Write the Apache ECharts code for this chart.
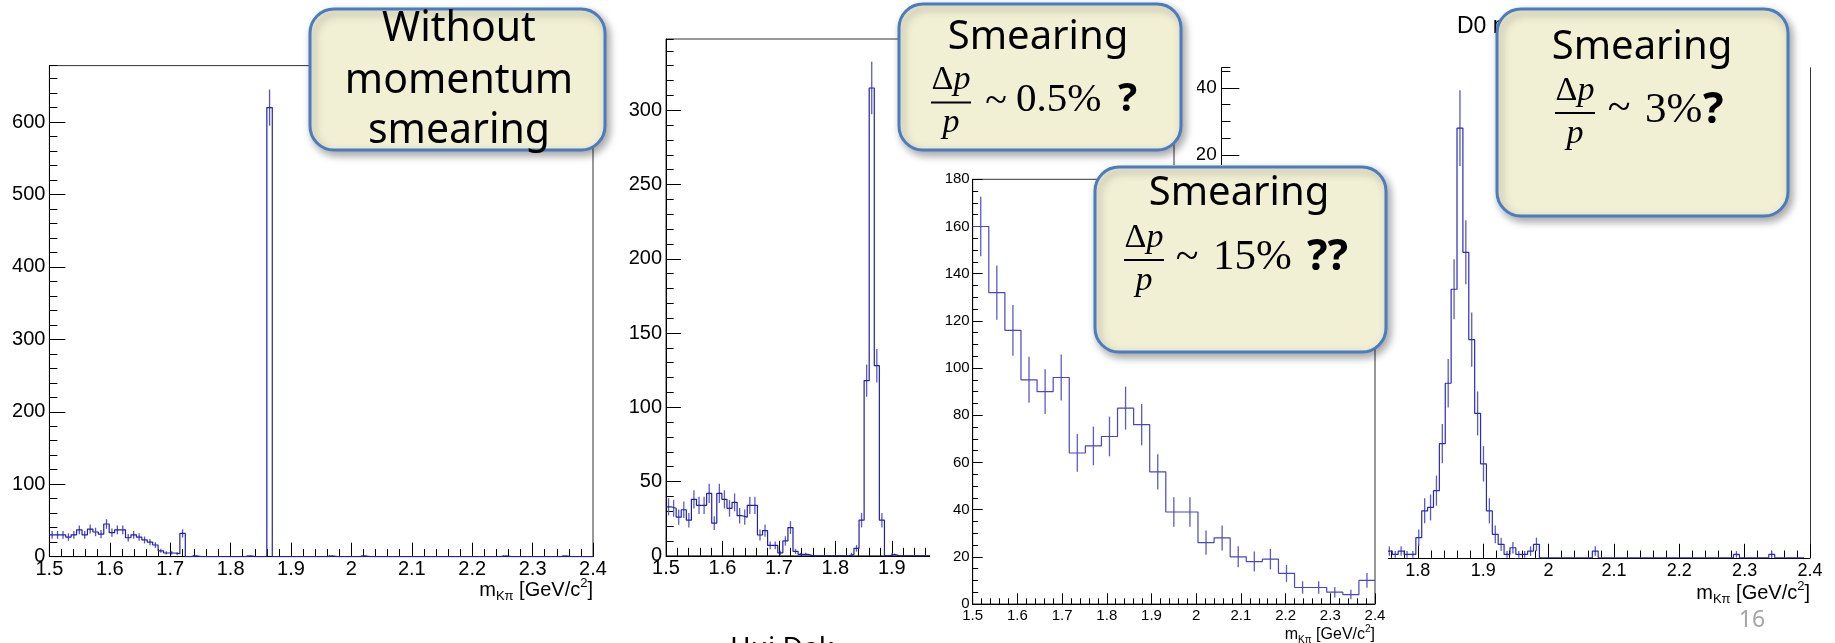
<!DOCTYPE html>
<html>
<head>
<meta charset="utf-8">
<script src="https://cdn.jsdelivr.net/npm/echarts@6/dist/echarts.min.js"></script>
<style>
  html, body { margin: 0; padding: 0; background: #fff; }
  #slide { position: relative; width: 1835px; height: 643px; overflow: hidden; background: #fff; }
  .pane { position: absolute; }
</style>
</head>
<body>
<div id="slide">
  <div id="p1" class="pane" style="left:0;top:0;width:620px;height:643px;z-index:1"></div>
  <div id="p2" class="pane" style="left:615px;top:0;width:570px;height:643px;z-index:1"></div>
  <div id="p4" class="pane" style="left:1197px;top:0;width:638px;height:643px;z-index:1"></div>
  <div id="p3" class="pane" style="left:930px;top:165px;width:458px;height:478px;z-index:2;background:#fff"></div>
  <div id="notes" class="pane" style="left:0;top:0;width:1835px;height:643px;z-index:3"></div>
</div>
<script>
// histogram binning: m(K pi) from 1.5 to 2.4 GeV/c^2
const binStart = 1.5;
const fineBin = 0.009;   // 100 bins
const coarseBin = 0.036; // 25 bins

// without momentum smearing (100 bins)
const countsNoSmear = [
  30, 30, 30, 27, 30, 37, 30, 38, 34, 31,
  45, 33, 37, 37, 26, 30, 27, 23, 20, 16,
  8, 5, 5, 4, 32, 0, 1, 0, 0, 0,
  0, 0, 0, 0, 0, 0, 1, 0, 0, 0,
  620, 0, 0, 0, 0, 0, 0, 0, 0, 0,
  0, 1, 0, 0, 0, 0, 0, 1, 0, 0,
  0, 0, 0, 0, 0, 0, 0, 0, 0, 0,
  0, 0, 0, 0, 0, 0, 0, 0, 0, 0,
  0, 0, 0, 1, 0, 0, 0, 0, 0, 0,
  0, 0, 0, 0, 1, 0, 0, 0, 0, 0
];

// smearing 0.5% (100 bins, right part hidden behind the next plot)
const countsSmear05 = [
  33, 32, 26, 31, 24, 38, 34, 34, 42, 22,
  42, 38, 32, 36, 27, 26, 34, 34, 14, 17,
  7, 7, 2, 10, 19, 3, 1, 1, 0, 0,
  0, 0, 0, 0, 0, 0, 1, 5, 24, 118,
  315, 128, 24, 0, 1, 0, 0, 0, 0, 0,
  0, 0, 0, 0, 0, 0, 0, 0, 0, 0,
  0, 0, 0, 0, 0, 0, 0, 0, 0, 0,
  0, 0, 0, 0, 0, 0, 0, 0, 0, 0,
  0, 0, 0, 0, 0, 0, 0, 0, 0, 0,
  0, 0, 0, 0, 0, 0, 0, 0, 0, 0
];

// smearing 15% (25 bins)
const countsSmear15 = [160, 132, 116, 95, 90, 96, 64, 67, 71, 83, 76, 56, 39, 39, 26, 28, 20, 18, 19, 13, 7, 7, 5, 4, 10];

// smearing 3% (100 bins, first 27 hidden behind the 15% plot)
const smear3FirstBin = 27;
const countsSmear3 = [
  1, 2, 1, 2, 1, 1, 6, 14, 15, 20,
  34, 52, 80, 128, 91, 65, 43, 28, 14, 7,
  4, 1, 3, 1, 1, 2, 4,
  0, 0, 0, 0, 0, 0, 0, 0, 0, 2,
  0, 0, 0, 0, 0, 0, 0, 0, 0, 0,
  0, 0, 0, 0, 0, 0, 0, 0, 0, 0,
  0, 0, 0, 1, 0, 0, 0, 0, 0, 1,
  0, 0, 0, 0, 0
];

const xTitle = '{m|m}{s|Kπ}{m| [GeV/c}{u|2}{m|]}';
const F = 'Liberation Sans';

function histPoints(counts, x0, w) {
  const pts = counts.map((c, i) => [x0 + i * w, c]);
  pts.push([x0 + counts.length * w, counts[counts.length - 1]]);
  return pts;
}
function errPoints(counts, x0, w) {
  return counts.map((c, i) => [x0 + (i + 0.5) * w, c]).filter(d => d[1] > 0);
}

function titleText(x, y, size) {
  const sub = Math.round(size * 0.65);
  return {
    type: 'text', x: x, y: y, z: 5,
    style: {
      text: xTitle, align: 'right', verticalAlign: 'middle',
      textAlign: 'right', textVerticalAlign: 'middle',
      rich: {
        m: { fontSize: size, fontFamily: F, fill: '#000', color: '#000', lineHeight: size * 1.3 },
        s: { fontSize: sub, fontFamily: F, fill: '#000', color: '#000', verticalAlign: 'bottom', lineHeight: size * 0.8 },
        u: { fontSize: sub, fontFamily: F, fill: '#000', color: '#000', verticalAlign: 'top', lineHeight: size * 0.8 }
      }
    }
  };
}

function panel(id, p) {
  const chart = echarts.init(document.getElementById(id), null, { renderer: 'canvas' });
  const xBase = { type: 'value', position: 'bottom', min: 1.5, max: 2.4, splitLine: { show: false } };
  const yBase = { type: 'value', min: 0, max: p.yMax, splitLine: { show: false } };
  const yAxes = [
    Object.assign({}, yBase, {
      position: 'left', interval: p.yStep,
      axisLine: { show: true, onZero: false, lineStyle: { color: '#000', width: 1 } },
      axisTick: { inside: true, length: p.yLen[0], lineStyle: { color: '#000' } },
      axisLabel: { fontSize: p.yFont, fontFamily: F, color: '#000', margin: p.yMargin, showMaxLabel: !!p.maxLabel }
    }),
    Object.assign({}, yBase, {
      position: 'left', interval: p.yMinorStep,
      axisLine: { show: false },
      axisTick: { inside: true, length: p.yLen[1], lineStyle: { color: '#000' } },
      axisLabel: { show: false }
    })
  ];
  if (p.openTop) {
    // right edge of the frame only (the top of this plot is cut off on the slide)
    yAxes.push(Object.assign({}, yBase, {
      position: 'right', interval: p.yStep,
      axisLine: { show: true, onZero: false, lineStyle: { color: '#333', width: 1 } },
      axisTick: { show: false }, axisLabel: { show: false }
    }));
  }
  chart.setOption({
    animation: false,
    grid: [{
      left: p.grid[0], top: p.grid[1], width: p.grid[2], height: p.grid[3],
      show: !p.openTop, borderColor: '#333', borderWidth: 1, backgroundColor: 'transparent',
      containLabel: false, outerBoundsMode: 'none'
    }],
    xAxis: [
      Object.assign({}, xBase, {
        interval: 0.1,
        axisLine: { show: true, onZero: false, lineStyle: { color: '#000', width: 1 } },
        axisTick: { inside: true, length: p.xLen[0], lineStyle: { color: '#000' } },
        axisLabel: { fontSize: p.xFont, fontFamily: F, color: '#000', margin: p.xMargin }
      }),
      Object.assign({}, xBase, {
        interval: 0.02,
        axisLine: { show: false },
        axisTick: { inside: true, length: p.xLen[1], lineStyle: { color: '#000' } },
        axisLabel: { show: false }
      })
    ],
    yAxis: yAxes,
    series: [
      {
        type: 'line', step: 'end', xAxisIndex: 0, yAxisIndex: 0,
        data: histPoints(p.counts, p.x0, p.w),
        symbol: 'none', silent: true,
        lineStyle: { color: p.line, width: 1.2 }
      },
      {
        type: 'custom', xAxisIndex: 0, yAxisIndex: 0, silent: true,
        data: errPoints(p.counts, p.x0, p.w),
        encode: { x: 0, y: 1 },
        renderItem: function (params, api) {
          const x = api.value(0), c = api.value(1), e = Math.sqrt(c);
          const a = api.coord([x, c + e]);
          const b = api.coord([x, Math.max(c - e, 0)]);
          return { type: 'line', shape: { x1: a[0], y1: a[1], x2: b[0], y2: b[1] }, style: { stroke: p.err, lineWidth: 1.3 } };
        }
      }
    ],
    graphic: p.graphic || []
  });
}

panel('p1', {
  counts: countsNoSmear, x0: binStart, w: fineBin,
  grid: [49.4, 65.6, 543.6, 491], yMax: 678, yStep: 100, yMinorStep: 20,
  xFont: 20, yFont: 20, xLen: [14, 7.5], yLen: [16, 8], xMargin: 3, yMargin: 4,
  line: '#2020a8', err: '#5252cc',
  graphic: [titleText(593, 590, 20)]
});

panel('p2', {
  counts: countsSmear05, x0: binStart, w: fineBin,
  grid: [51, 39, 508, 516.8], yMax: 348, yStep: 50, yMinorStep: 10,
  xFont: 20, yFont: 20, xLen: [15, 8], yLen: [15, 7.7], xMargin: 3, yMargin: 4,
  line: '#2020a8', err: '#5a5ad0'
});

panel('p4', {
  counts: countsSmear3, x0: binStart + smear3FirstBin * fineBin, w: fineBin,
  grid: [24.7, 67.7, 588.3, 490.1], yMax: 146, yStep: 20, yMinorStep: 5, openTop: true,
  xFont: 18, yFont: 19, xLen: [14, 7.3], yLen: [17.7, 8.7], xMargin: 4, yMargin: 5,
  line: '#2a2ab8', err: '#5a5ad0',
  graphic: [
    titleText(613, 593, 20),
    { type: 'text', x: 260, y: 27, style: { text: 'D0 mass', fontSize: 23, fontFamily: F, fill: '#000', align: 'left', verticalAlign: 'middle', textAlign: 'left', textVerticalAlign: 'middle' } }
  ]
});

panel('p3', {
  counts: countsSmear15, x0: binStart, w: coarseBin,
  grid: [42.7, 14.3, 402.3, 424.7], yMax: 180, yStep: 20, yMinorStep: 5, maxLabel: true,
  xFont: 15, yFont: 15, xLen: [10.7, 5.7], yLen: [10, 5.5], xMargin: 4, yMargin: 3,
  line: '#4646c8', err: '#5a5ad0',
  graphic: [titleText(445, 470, 16)]
});

// callouts and slide notes
const notes = echarts.init(document.getElementById('notes'), null, { renderer: 'canvas' });
const SANS = 'Noto Sans';
const SERIF = 'Liberation Serif';

function box(x, y, w, h) {
  return {
    type: 'rect', z: 10, shape: { x: x, y: y, width: w, height: h, r: 24 },
    style: { fill: '#f2f0d4', stroke: '#4a7cc0', lineWidth: 3, shadowBlur: 8, shadowOffsetX: 3, shadowOffsetY: 4, shadowColor: 'rgba(0,0,0,0.35)' }
  };
}
function txt(x, y, text, size, family, align, opts) {
  opts = opts || {};
  return {
    type: 'text', x: x, y: y, z: 11,
    style: {
      text: text, fontSize: size, fontFamily: family, fill: opts.color || '#000',
      fontWeight: opts.weight || 'normal', fontStyle: opts.style || 'normal',
      align: align, verticalAlign: 'middle', textAlign: align, textVerticalAlign: 'middle'
    }
  };
}
function frac(cx, barY) {
  return [
    {
      type: 'text', x: cx, y: barY - 22, z: 11,
      style: {
        text: '{d|Δ}{p|p}', align: 'center', verticalAlign: 'middle', textAlign: 'center', textVerticalAlign: 'middle',
        rich: {
          d: { fontSize: 34, fontFamily: SERIF, fill: '#000', color: '#000' },
          p: { fontSize: 34, fontFamily: SERIF, fontStyle: 'italic', fill: '#000', color: '#000' }
        }
      }
    },
    { type: 'line', z: 11, shape: { x1: cx - 20, y1: barY, x2: cx + 20, y2: barY }, style: { stroke: '#000', lineWidth: 2.2 } },
    txt(cx, barY + 21, 'p', 34, SERIF, 'center', { style: 'italic' })
  ];
}

const g = [];
// no smearing
g.push(box(310, 9, 295, 141));
g.push(txt(459, 29, 'Without', 41, SANS, 'center'));
g.push(txt(459, 81, 'momentum', 41, SANS, 'center'));
g.push(txt(459, 131, 'smearing', 41, SANS, 'center'));
// 0.5 %
g.push(box(899, 4, 282, 146));
g.push(txt(1038, 38, 'Smearing', 40, SANS, 'center'));
g.push(...frac(951, 102.5));
g.push(txt(996, 102, '~', 40, SERIF, 'center'));
g.push(txt(1016, 100, '0.5%', 41, SERIF, 'left'));
g.push(txt(1118, 100, '?', 40, SANS, 'left', { weight: 'bold' }));
// 15 %
g.push(box(1095, 167, 291, 185));
g.push(txt(1239, 194, 'Smearing', 40, SANS, 'center'));
g.push(...frac(1144, 260));
g.push(txt(1187, 258, '~', 42, SERIF, 'center'));
g.push(txt(1213, 258, '15%', 43, SERIF, 'left'));
g.push(txt(1307, 258, '??', 43, SANS, 'left', { weight: 'bold' }));
// 3 %
g.push(box(1497, 9, 291, 207));
g.push(txt(1642, 48, 'Smearing', 40, SANS, 'center'));
g.push(...frac(1575, 113));
g.push(txt(1619, 109, '~', 42, SERIF, 'center'));
g.push(txt(1645, 111, '3%', 43, SERIF, 'left'));
g.push(txt(1703, 111, '?', 43, SANS, 'left', { weight: 'bold' }));
// page number and cut footer
g.push(txt(1752, 620, '16', 23, SANS, 'center', { color: '#a6a6a6' }));
g.push(txt(730, 649, 'Hui Dak', 28, SANS, 'left'));

notes.setOption({ animation: false, graphic: g });
</script>
</body>
</html>
